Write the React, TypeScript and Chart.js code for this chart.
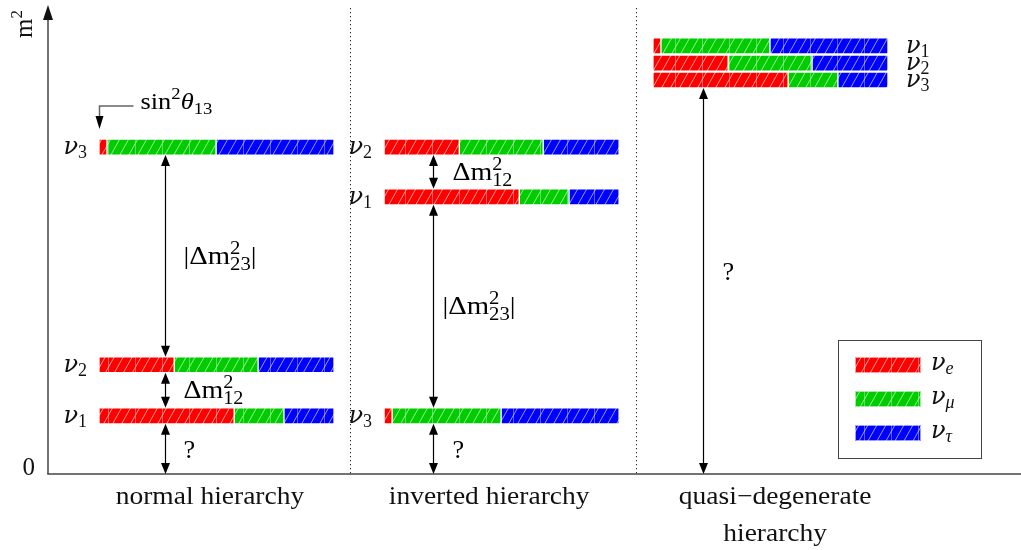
import React, { useEffect, useRef } from 'react';
import { Chart, registerables } from 'chart.js';

Chart.register(...registerables);

// ---------- data ----------
const FLAVOURS = ['e', 'μ', 'τ'];
const FLAVOUR_COLORS = ['#ff0000', '#00cc00', '#0000ff'];
// flavour content |U_fi|^2 of mass states ν1, ν2, ν3
const UE2 = [0.575, 0.32, 0.034];
const UMU2 = [0.212, 0.357, 0.464];
const UTAU2 = [0.213, 0.323, 0.502];

const HIERARCHY_LABELS = [['normal hierarchy'], ['inverted hierarchy'], ['quasi−degenerate', 'hierarchy']];
// m² level of rows whose composition is ν1, ν2, ν3 (arbitrary units, 0..10)
const NORMAL_M2 = [1.24, 2.33, 6.97];
const INVERTED_M2 = [5.91, 6.97, 1.24];
const QUASI_M2 = [8.4, 8.76, 9.13];
const NORMAL_LABELS = ['1', '2', '3'];
const INVERTED_LABELS = ['1', '2', '3'];
const QUASI_LABELS = ['3', '2', '1'];

// ---------- layout ----------
const W = 1021;
const H = 550;
const X_MAX = 4.14;
const Y_MAX = 10;
const BAR_THICKNESS = 16;
const COLUMN_X = [0.217, 1.43, 2.574];
const SEPARATOR_X = [1.285, 2.502];
const ARROW_FRAC = [0.281, 0.209, 0.213];
const CATEGORY_X = [0.689, 1.877, 3.094];
const SERIF = '"Liberation Serif", "Times New Roman", serif';
const GREEK = '"DejaVu Serif", serif';

const COLUMNS = [
  { m2: NORMAL_M2, labels: NORMAL_LABELS, labelSide: 'left' },
  { m2: INVERTED_M2, labels: INVERTED_LABELS, labelSide: 'left' },
  { m2: QUASI_M2, labels: QUASI_LABELS, labelSide: 'right' },
];

// arrows: [column, upper row index, lower row index (-1 = zero), label kind, dx, dy]
const ARROWS: [number, number, number, string, number, number][] = [
  [0, 2, 1, 'd23', 18, 0],
  [0, 1, 0, 'd12', 18, 0],
  [0, 0, -1, 'q', 18, 0],
  [1, 1, 0, 'd12', 19, 0],
  [1, 0, 2, 'd23', 9, 0],
  [1, 2, -1, 'q', 19, 0],
  [2, 0, -1, 'q', 19, -10],
];

type Seg = { t?: string; s: number; it?: boolean; dy?: number; sup?: string; sub?: string; subIt?: boolean; fam?: string };

function segFont(s: number, it?: boolean, fam?: string) {
  return `${it ? 'italic ' : ''}${s}px ${fam || SERIF}`;
}

function segWidth(ctx: CanvasRenderingContext2D, seg: Seg) {
  if (seg.sup !== undefined || seg.sub !== undefined) {
    ctx.font = segFont(seg.s, false);
    const a = ctx.measureText(seg.sup || '').width;
    ctx.font = segFont(seg.s, seg.subIt);
    const b = ctx.measureText(seg.sub || '').width;
    return Math.max(a, b);
  }
  ctx.font = segFont(seg.s, seg.it, seg.fam);
  return ctx.measureText(seg.t || '').width;
}

function drawRich(ctx: CanvasRenderingContext2D, segs: Seg[], x: number, y: number, align: string, sx = 1) {
  const widths = segs.map((s) => segWidth(ctx, s));
  const w = widths.reduce((a, b) => a + b, 0) * sx;
  const left = align === 'left' ? x : align === 'right' ? x - w : x - w / 2;
  ctx.save();
  ctx.translate(left, y);
  ctx.scale(sx, 1);
  ctx.textAlign = 'left';
  ctx.textBaseline = 'alphabetic';
  let cx = 0;
  segs.forEach((s, i) => {
    if (s.sup !== undefined || s.sub !== undefined) {
      if (s.sup) {
        ctx.font = segFont(s.s, false);
        ctx.fillText(s.sup, cx, -10);
      }
      if (s.sub) {
        ctx.font = segFont(s.s, s.subIt);
        ctx.fillText(s.sub, cx, 6);
      }
    } else {
      ctx.font = segFont(s.s, s.it, s.fam);
      ctx.fillText(s.t || '', cx, s.dy || 0);
    }
    cx += widths[i];
  });
  ctx.restore();
}

function arrowHead(ctx: CanvasRenderingContext2D, x: number, y: number, dir: number, len = 11, half = 4.5) {
  ctx.beginPath();
  ctx.moveTo(x, y);
  ctx.lineTo(x - half, y - dir * len);
  ctx.lineTo(x + half, y - dir * len);
  ctx.closePath();
  ctx.fill();
}

function makePattern(color: string) {
  const c = document.createElement('canvas');
  c.width = 27;
  c.height = 16;
  const g = c.getContext('2d')!;
  g.fillStyle = color;
  g.fillRect(0, 0, 27, 16);
  g.strokeStyle = 'rgba(255,255,255,0.6)';
  g.lineWidth = 1;
  for (let x0 = -9; x0 <= 27; x0 += 9) {
    g.beginPath();
    g.moveTo(x0, 16);
    g.lineTo(x0 + 9, 0);
    g.stroke();
  }
  g.strokeStyle = 'rgba(255,255,255,0.35)';
  g.beginPath();
  g.moveTo(0.5, 0);
  g.lineTo(0.5, 16);
  g.stroke();
  return g.createPattern(c, 'repeat')!;
}

const nu = (sub: string, subIt = false): Seg[] => [
  { t: 'ν', s: 24, it: true, fam: GREEK },
  { t: sub, s: 18, it: subIt, dy: 4 },
];

export default function App() {
  const ref = useRef<HTMLCanvasElement>(null);

  useEffect(() => {
    const canvas = ref.current!;
    const patterns = FLAVOUR_COLORS.map(makePattern);
    const comps = [UE2, UMU2, UTAU2];

    const datasets = FLAVOURS.map((f, k) => {
      const data: any[] = [];
      COLUMNS.forEach((col, c) => {
        col.m2.forEach((lvl, r) => {
          let start = COLUMN_X[c];
          for (let j = 0; j < k; j++) start += comps[j][r];
          data.push({ y: lvl, x: [start, start + comps[k][r]] });
        });
      });
      return {
        label: 'ν' + f,
        data,
        backgroundColor: patterns[k],
        borderColor: 'rgba(255,255,255,0.6)',
        borderWidth: 1,
        borderSkipped: false,
        barThickness: BAR_THICKNESS,
        grouped: false,
      };
    });

    const overlay = {
      id: 'overlay',
      afterDraw(chart: any) {
        const { ctx, chartArea: ca, scales } = chart;
        const xs = scales.x;
        const ys = scales.y;
        const px = (v: number) => xs.getPixelForValue(v);
        const py = (v: number) => ys.getPixelForValue(v);
        ctx.save();

        // separators
        ctx.fillStyle = '#222';
        SEPARATOR_X.forEach((sx) => {
          const x = Math.round(px(sx));
          for (let y = ca.top + 3; y < ca.bottom; y += 4) ctx.fillRect(x, y, 1, 1.2);
        });

        // axes
        ctx.strokeStyle = '#444';
        ctx.fillStyle = '#111';
        ctx.lineWidth = 1.5;
        ctx.beginPath();
        ctx.moveTo(ca.left, ca.bottom);
        ctx.lineTo(ca.left, ca.top + 10);
        ctx.stroke();
        arrowHead(ctx, ca.left, ca.top, -1, 15, 5);
        ctx.beginPath();
        ctx.moveTo(ca.left - 0.75, ca.bottom);
        ctx.lineTo(ca.right, ca.bottom);
        ctx.stroke();

        ctx.fillStyle = '#111';
        // 0 label
        ctx.font = `25px ${SERIF}`;
        ctx.textAlign = 'right';
        ctx.textBaseline = 'alphabetic';
        ctx.fillText('0', ca.left - 13, ca.bottom + 1);
        // m² label
        ctx.save();
        ctx.translate(ca.left - 16, ca.top + 33);
        ctx.rotate(-Math.PI / 2);
        drawRich(ctx, [{ t: 'm', s: 25 }, { t: '2', s: 17, dy: -10 }], 0, 0, 'left');
        ctx.restore();

        // level labels
        COLUMNS.forEach((col, c) => {
          col.m2.forEach((lvl, r) => {
            const yb = py(lvl) + 7;
            if (col.labelSide === 'left') drawRich(ctx, nu(col.labels[r]), px(COLUMN_X[c]) - 12, yb, 'right');
            else drawRich(ctx, nu(col.labels[r]), px(COLUMN_X[c] + 1) + 18, yb, 'left');
          });
        });

        // arrows
        ctx.strokeStyle = '#000';
        ctx.fillStyle = '#000';
        ctx.lineWidth = 1.2;
        const half = BAR_THICKNESS / 2;
        ARROWS.forEach(([c, up, low, kind, dx, dy]) => {
          const col = COLUMNS[c];
          const x = Math.round(px(COLUMN_X[c] + ARROW_FRAC[c])) + 0.5;
          const yTop = py(col.m2[up]) + half;
          const yBot = low < 0 ? py(0) : py(col.m2[low]) - half;
          ctx.beginPath();
          ctx.moveTo(x, yTop + 8);
          ctx.lineTo(x, yBot - 8);
          ctx.stroke();
          arrowHead(ctx, x, yTop, -1);
          arrowHead(ctx, x, yBot, 1);
          const mid = (yTop + yBot) / 2 + dy;
          const lx = x + dx;
          if (kind === 'q') {
            drawRich(ctx, [{ t: '?', s: 25 }], lx, mid + 9, 'left', 1.05);
          } else if (kind === 'd12') {
            drawRich(ctx, [{ t: 'Δm', s: 25 }, { s: 18, sup: '2', sub: '12' }], lx, mid + 8, 'left', 1.12);
          } else {
            drawRich(
              ctx,
              [{ t: '|Δm', s: 25 }, { s: 18, sup: '2', sub: '23' }, { t: '|', s: 25 }],
              lx,
              mid + 8,
              'left',
              1.15
            );
          }
        });

        // sin²θ13 leader
        const tipX = Math.round(px(COLUMN_X[0])) + 0.5;
        const tipY = py(NORMAL_M2[2]) - half - 10;
        const elbowY = tipY - 23;
        ctx.strokeStyle = '#666';
        ctx.lineWidth = 1.5;
        ctx.beginPath();
        ctx.moveTo(tipX + 34, elbowY);
        ctx.lineTo(tipX, elbowY);
        ctx.lineTo(tipX, tipY - 8);
        ctx.stroke();
        ctx.fillStyle = '#000';
        arrowHead(ctx, tipX, tipY, 1, 13, 4);
        drawRich(
          ctx,
          [{ t: 'sin', s: 24 }, { t: '2', s: 17, dy: -10 }, { t: 'θ', s: 24, it: true }, { t: '13', s: 17, dy: 5 }],
          tipX + 41,
          elbowY + 3,
          'left',
          1.1
        );

        // category labels
        ctx.fillStyle = '#111';
        HIERARCHY_LABELS.forEach((lines, c) => {
          lines.forEach((ln, i) => {
            ctx.save();
            ctx.translate(px(CATEGORY_X[c]), ca.bottom + 30 + i * 37);
            ctx.scale(1.1, 1);
            ctx.font = `25px ${SERIF}`;
            ctx.textAlign = 'center';
            ctx.fillText(ln, 0, 0);
            ctx.restore();
          });
        });

        // legend
        ctx.strokeStyle = '#444';
        ctx.lineWidth = 1;
        ctx.strokeRect(838.5, 340.5, 143, 118);
        FLAVOURS.forEach((f, k) => {
          const cy = 365 + k * 34;
          ctx.fillStyle = patterns[k];
          ctx.fillRect(855, cy - 8, 66, 16);
          ctx.strokeStyle = 'rgba(255,255,255,0.6)';
          ctx.strokeRect(855.5, cy - 7.5, 65, 15);
          ctx.fillStyle = '#111';
          drawRich(ctx, nu(f, true), 931, cy + 5, 'left');
        });

        ctx.restore();
      },
    };

    const chart = new Chart(canvas, {
      type: 'bar',
      data: { datasets: datasets as any },
      options: {
        indexAxis: 'y',
        responsive: false,
        animation: false,
        layout: { padding: { left: 48, top: 5, right: 0, bottom: 76 } },
        scales: {
          x: { type: 'linear', min: 0, max: X_MAX, display: false, offset: false },
          y: { type: 'linear', min: 0, max: Y_MAX, display: false, offset: false },
        },
        plugins: { legend: { display: false }, tooltip: { enabled: false } },
      },
      plugins: [overlay],
    } as any);

    return () => chart.destroy();
  }, []);

  return (
    <div style={{ position: 'absolute', left: 0, top: 0, width: W, height: H, background: '#fff' }}>
      <canvas ref={ref} width={W} height={H} style={{ display: 'block' }} />
    </div>
  );
}
